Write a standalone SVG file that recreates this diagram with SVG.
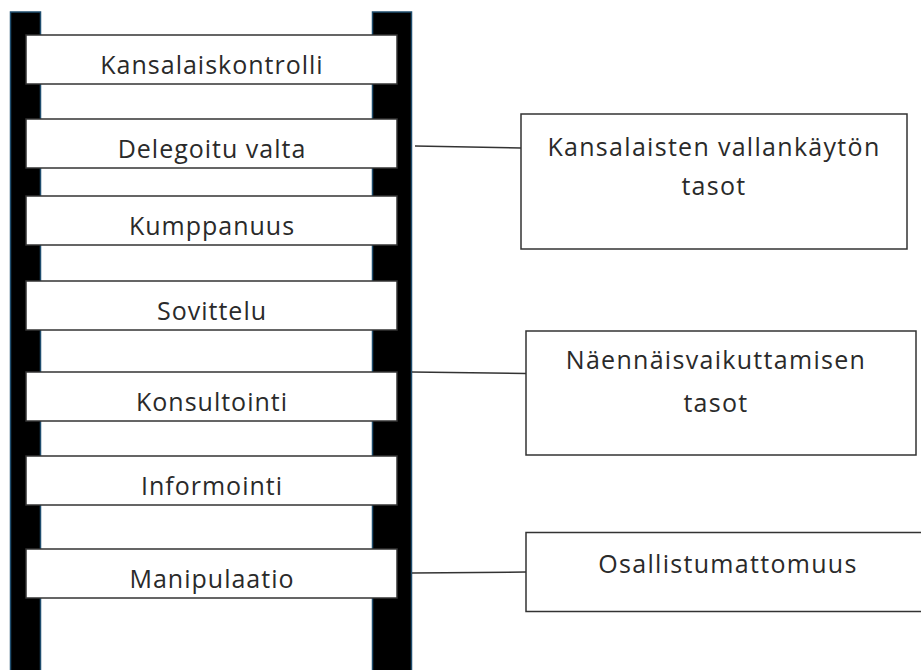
<svg xmlns="http://www.w3.org/2000/svg" width="921" height="670" viewBox="0 0 921 670">
<style>
.rail{fill:#000;stroke:#1f4d6e;stroke-width:1.5}
.rung{fill:#fff;stroke:#333;stroke-width:1.5}
.box{fill:#fff;stroke:#333;stroke-width:1.5}
.t{font-family:"Open Sans","Liberation Sans",sans-serif;font-size:25px;letter-spacing:1px;fill:#2a2a2a;text-anchor:middle}
.b{font-family:"Open Sans","Liberation Sans",sans-serif;font-size:25px;letter-spacing:1.3px;fill:#2a2a2a;text-anchor:middle}
.con{stroke:#333;stroke-width:1.5;fill:none}
</style>
<rect width="921" height="670" fill="#fff"/>
<g id="rails">
<rect class="rail" x="10.5" y="12" width="30" height="670"/>
<rect class="rail" x="372.5" y="12" width="39" height="670"/>
</g>
<g id="rung-kansalaiskontrolli"><rect class="rung" x="26" y="35" width="371" height="49"/><text class="t" x="212" y="73.5">Kansalaiskontrolli</text></g>
<g id="rung-delegoitu"><rect class="rung" x="26" y="119" width="371" height="49"/><text class="t" x="212" y="157.5">Delegoitu valta</text></g>
<g id="rung-kumppanuus"><rect class="rung" x="26" y="196" width="371" height="49"/><text class="t" x="212" y="234.5">Kumppanuus</text></g>
<g id="rung-sovittelu"><rect class="rung" x="26" y="281" width="371" height="49"/><text class="t" x="212" y="319.5">Sovittelu</text></g>
<g id="rung-konsultointi"><rect class="rung" x="26" y="372" width="371" height="49"/><text class="t" x="212" y="410.5">Konsultointi</text></g>
<g id="rung-informointi"><rect class="rung" x="26" y="456" width="371" height="49"/><text class="t" x="212" y="494.5">Informointi</text></g>
<g id="rung-manipulaatio"><rect class="rung" x="26" y="549" width="371" height="49"/><text class="t" x="212" y="587.5">Manipulaatio</text></g>
<g id="connectors">
<line class="con" x1="415" y1="146" x2="521" y2="148"/>
<line class="con" x1="412" y1="372" x2="526" y2="373.5"/>
<line class="con" x1="412" y1="573" x2="526" y2="572"/>
</g>
<g id="box-kansalaisten"><rect class="box" x="521" y="114" width="386" height="135"/><text class="b" x="714" y="156">Kansalaisten vallankäytön</text><text class="b" x="714" y="195">tasot</text></g>
<g id="box-naennais"><rect class="box" x="526" y="331" width="390" height="124"/><text class="b" x="716" y="369">Näennäisvaikuttamisen</text><text class="b" x="716" y="412">tasot</text></g>
<g id="box-osallistumattomuus"><rect class="box" x="526" y="532.5" width="400" height="79"/><text class="b" x="728" y="573">Osallistumattomuus</text></g>
</svg>
